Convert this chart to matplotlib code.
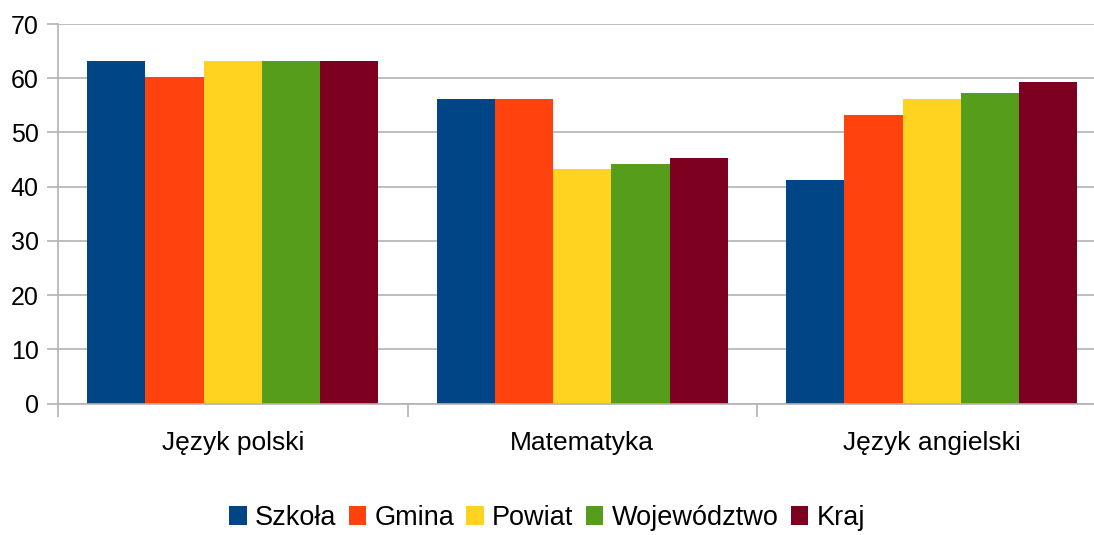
import matplotlib
matplotlib.use("Agg")
import matplotlib.pyplot as plt
from matplotlib.patches import Patch
import numpy as np

categories = ["Język polski", "Matematyka", "Język angielski"]
series_names = ["Szkoła", "Gmina", "Powiat", "Województwo", "Kraj"]
szkola = [63.2, 56.2, 41.3]
gmina = [60.2, 56.2, 53.3]
powiat = [63.2, 43.3, 56.2]
wojewodztwo = [63.2, 44.2, 57.3]
kraj = [63.2, 45.3, 59.3]
colors = ["#004586", "#ff420e", "#ffd320", "#579d1c", "#7e0021"]
yticks = [0, 10, 20, 30, 40, 50, 60, 70]

plt.rcParams['font.family'] = ['Liberation Sans', 'DejaVu Sans']

fig = plt.figure(figsize=(10.94, 5.35), dpi=100)
ax = fig.add_axes([58/1094, 1-403.5/535, 1-58/1094, (403.5-24)/535])

data = [szkola, gmina, powiat, wojewodztwo, kraj]
n = len(data)
total = 0.833
w = total / n
x = np.arange(len(categories))
for i, (vals, c) in enumerate(zip(data, colors)):
    ax.bar(x - total/2 + w*(i+0.5), vals, width=w, color=c, zorder=3, linewidth=0)

ax.set_xlim(-0.5, -0.5 + (1094-58)/349.5)
ax.set_ylim(0, 70)
ax.set_yticks(yticks)
ax.yaxis.grid(True, color="#b3b3b3", linewidth=1.2, zorder=0)
ax.tick_params(axis='y', length=8, color="#b3b3b3", width=1.2, labelsize=18, pad=6)

ax.set_xticks(x)
ax.set_xticklabels(categories)
ax.set_xticks([-0.5, 0.5, 1.5], minor=True)
ax.tick_params(axis='x', which='major', length=0, labelsize=19, pad=20)
ax.tick_params(axis='x', which='minor', length=9, color="#b3b3b3", width=1.2)

for s in ['top', 'right']:
    ax.spines[s].set_visible(False)
ax.spines['left'].set_color("#b3b3b3")
ax.spines['left'].set_linewidth(1.2)
ax.spines['bottom'].set_color("#b3b3b3")
ax.spines['bottom'].set_linewidth(1.2)
ax.spines['bottom'].set_zorder(4)

handles = [Patch(facecolor=c, edgecolor='none') for c in colors]
fig.legend(handles, series_names, loc='center', bbox_to_anchor=(0.5, 1-518/535),
           ncol=5, frameon=False, fontsize=19.5, handlelength=0.65, handleheight=0.65,
           handletextpad=0.3, columnspacing=0.45, borderaxespad=0)

fig.savefig("out.png", dpi=100)
